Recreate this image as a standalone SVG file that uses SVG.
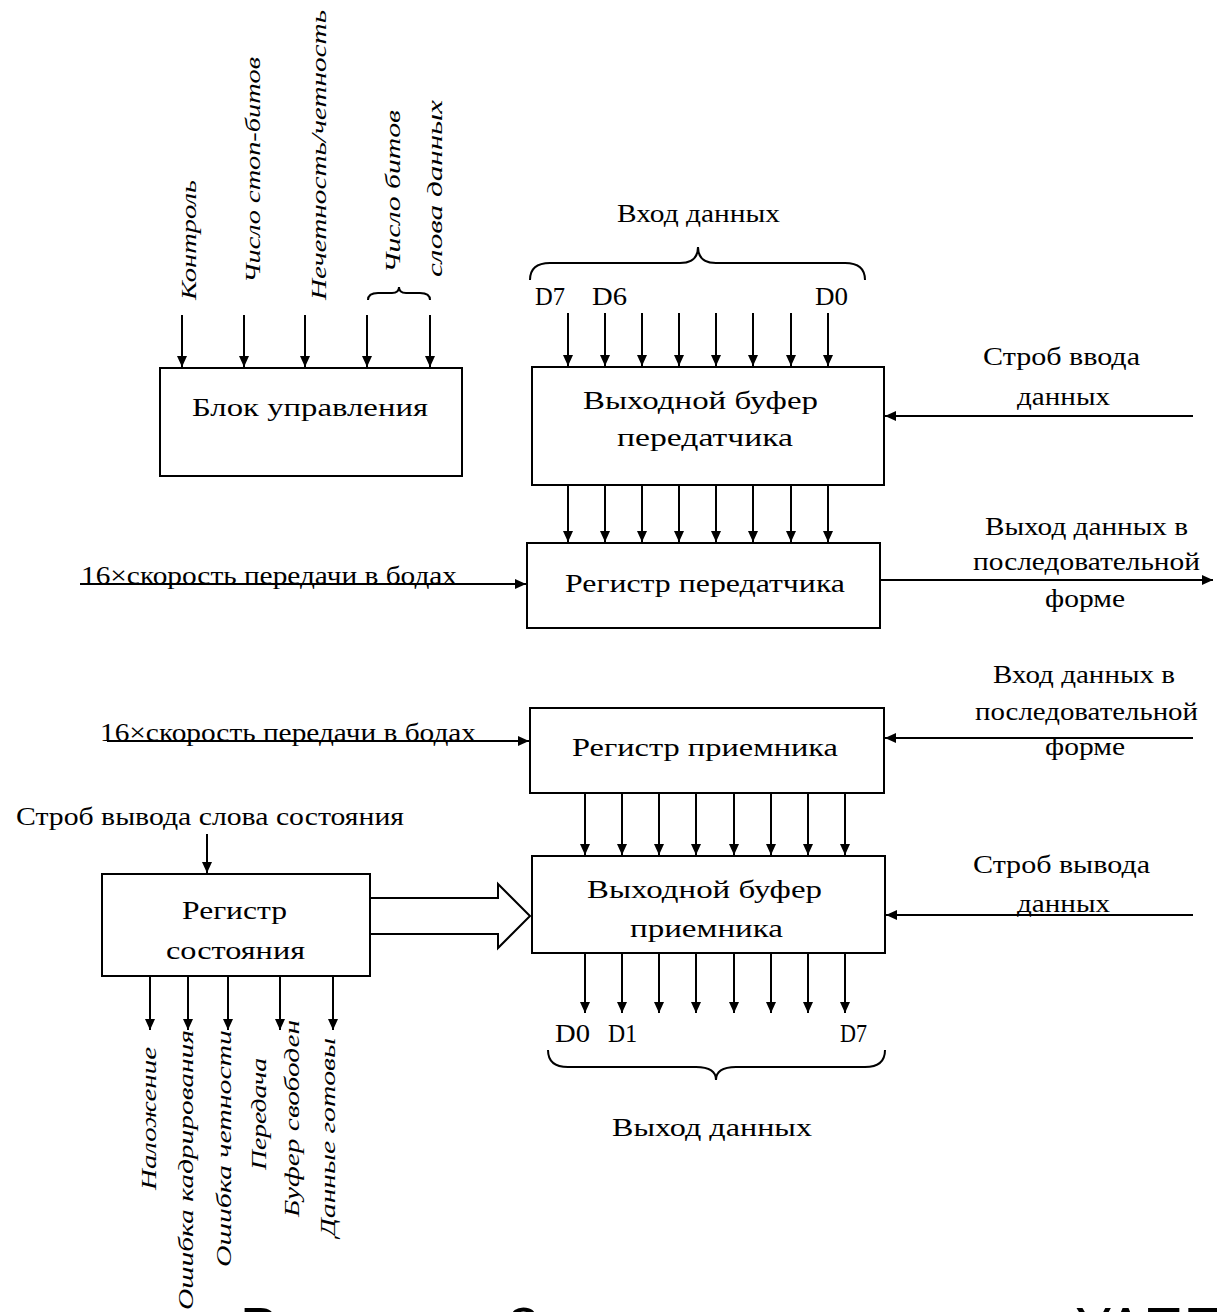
<svg xmlns="http://www.w3.org/2000/svg" width="1217" height="1312" viewBox="0 0 1217 1312">
<style>
.box{fill:#fff;stroke:#000;stroke-width:2}
.ln{stroke:#000;stroke-width:2;fill:none}
.t{font-family:"Liberation Serif","DejaVu Serif",serif;font-size:25px;fill:#000}
.d{font-family:"Liberation Serif","DejaVu Serif",serif;font-size:25px;fill:#000}
.r{font-family:"Liberation Serif","DejaVu Serif",serif;font-size:22px;font-style:italic;fill:#000}
.cap{font-family:"Liberation Sans",Arial,sans-serif;font-size:56px;fill:#000}
</style>
<defs>
<marker id="ah" markerUnits="userSpaceOnUse" markerWidth="12" markerHeight="10" refX="11" refY="5" orient="auto">
<path d="M0,0 L11,5 L0,10 z" fill="#000"/>
</marker>
</defs>
<rect width="1217" height="1312" fill="#fff"/>

<g id="connectors">
<line class="ln" x1="182" y1="315" x2="182" y2="367" marker-end="url(#ah)"/>
<line class="ln" x1="244" y1="315" x2="244" y2="367" marker-end="url(#ah)"/>
<line class="ln" x1="305" y1="315" x2="305" y2="367" marker-end="url(#ah)"/>
<line class="ln" x1="367" y1="315" x2="367" y2="367" marker-end="url(#ah)"/>
<line class="ln" x1="430" y1="315" x2="430" y2="367" marker-end="url(#ah)"/>
<path class="ln" d="M368,300 Q368,293 378,293 L392,293 Q399,293 399,287 Q399,293 406,293 L420,293 Q430,293 430,300"/>
<line class="ln" x1="568" y1="313" x2="568" y2="366" marker-end="url(#ah)"/>
<line class="ln" x1="605" y1="313" x2="605" y2="366" marker-end="url(#ah)"/>
<line class="ln" x1="642" y1="313" x2="642" y2="366" marker-end="url(#ah)"/>
<line class="ln" x1="679" y1="313" x2="679" y2="366" marker-end="url(#ah)"/>
<line class="ln" x1="716" y1="313" x2="716" y2="366" marker-end="url(#ah)"/>
<line class="ln" x1="753" y1="313" x2="753" y2="366" marker-end="url(#ah)"/>
<line class="ln" x1="791" y1="313" x2="791" y2="366" marker-end="url(#ah)"/>
<line class="ln" x1="828" y1="313" x2="828" y2="366" marker-end="url(#ah)"/>
<path class="ln" d="M530,280 Q530,263 550,263 L680,263 Q698,263 698,247 Q698,263 716,263 L845,263 Q865,263 865,280"/>
<line class="ln" x1="568" y1="485" x2="568" y2="542" marker-end="url(#ah)"/>
<line class="ln" x1="605" y1="485" x2="605" y2="542" marker-end="url(#ah)"/>
<line class="ln" x1="642" y1="485" x2="642" y2="542" marker-end="url(#ah)"/>
<line class="ln" x1="679" y1="485" x2="679" y2="542" marker-end="url(#ah)"/>
<line class="ln" x1="716" y1="485" x2="716" y2="542" marker-end="url(#ah)"/>
<line class="ln" x1="753" y1="485" x2="753" y2="542" marker-end="url(#ah)"/>
<line class="ln" x1="791" y1="485" x2="791" y2="542" marker-end="url(#ah)"/>
<line class="ln" x1="828" y1="485" x2="828" y2="542" marker-end="url(#ah)"/>
<line class="ln" x1="1193" y1="416" x2="885" y2="416" marker-end="url(#ah)"/>
<line class="ln" x1="880" y1="580" x2="1213" y2="580" marker-end="url(#ah)"/>
<line class="ln" x1="1193" y1="738" x2="885" y2="738" marker-end="url(#ah)"/>
<line class="ln" x1="1193" y1="915" x2="886" y2="915" marker-end="url(#ah)"/>
<line class="ln" x1="80" y1="584" x2="526" y2="584" marker-end="url(#ah)"/>
<line class="ln" x1="107" y1="741" x2="529" y2="741" marker-end="url(#ah)"/>
<line class="ln" x1="585" y1="793" x2="585" y2="855" marker-end="url(#ah)"/>
<line class="ln" x1="622" y1="793" x2="622" y2="855" marker-end="url(#ah)"/>
<line class="ln" x1="659" y1="793" x2="659" y2="855" marker-end="url(#ah)"/>
<line class="ln" x1="696" y1="793" x2="696" y2="855" marker-end="url(#ah)"/>
<line class="ln" x1="734" y1="793" x2="734" y2="855" marker-end="url(#ah)"/>
<line class="ln" x1="771" y1="793" x2="771" y2="855" marker-end="url(#ah)"/>
<line class="ln" x1="808" y1="793" x2="808" y2="855" marker-end="url(#ah)"/>
<line class="ln" x1="845" y1="793" x2="845" y2="855" marker-end="url(#ah)"/>
<line class="ln" x1="585" y1="953" x2="585" y2="1013" marker-end="url(#ah)"/>
<line class="ln" x1="622" y1="953" x2="622" y2="1013" marker-end="url(#ah)"/>
<line class="ln" x1="659" y1="953" x2="659" y2="1013" marker-end="url(#ah)"/>
<line class="ln" x1="696" y1="953" x2="696" y2="1013" marker-end="url(#ah)"/>
<line class="ln" x1="734" y1="953" x2="734" y2="1013" marker-end="url(#ah)"/>
<line class="ln" x1="771" y1="953" x2="771" y2="1013" marker-end="url(#ah)"/>
<line class="ln" x1="808" y1="953" x2="808" y2="1013" marker-end="url(#ah)"/>
<line class="ln" x1="845" y1="953" x2="845" y2="1013" marker-end="url(#ah)"/>
<path class="ln" d="M548,1050 Q548,1067 568,1067 L696,1067 Q716,1067 716,1080 Q716,1067 736,1067 L865,1067 Q885,1067 885,1050"/>
<line class="ln" x1="207" y1="834" x2="207" y2="873" marker-end="url(#ah)"/>
<line class="ln" x1="150" y1="976" x2="150" y2="1030" marker-end="url(#ah)"/>
<line class="ln" x1="188" y1="976" x2="188" y2="1030" marker-end="url(#ah)"/>
<line class="ln" x1="228" y1="976" x2="228" y2="1030" marker-end="url(#ah)"/>
<line class="ln" x1="280" y1="976" x2="280" y2="1030" marker-end="url(#ah)"/>
<line class="ln" x1="333" y1="976" x2="333" y2="1030" marker-end="url(#ah)"/>
<polygon class="box" points="370,898 498,898 498,884 530,916 498,948 498,934 370,934"/>
</g>

<g id="control-block">
<rect class="box" x="160" y="368" width="302" height="108"/>
<text class="t" x="192" y="416" textLength="236" lengthAdjust="spacingAndGlyphs">Блок управления</text>
</g>
<g id="control-inputs">
<text class="r" transform="translate(196,300) rotate(-90)" textLength="120" lengthAdjust="spacingAndGlyphs">Контроль</text>
<text class="r" transform="translate(260,283) rotate(-90)" textLength="226" lengthAdjust="spacingAndGlyphs">Число стоп-битов</text>
<text class="r" transform="translate(326,300) rotate(-90)" textLength="290" lengthAdjust="spacingAndGlyphs">Нечетность/четность</text>
<text class="r" transform="translate(400,273) rotate(-90)" textLength="163" lengthAdjust="spacingAndGlyphs">Число битов</text>
<text class="r" transform="translate(442,277) rotate(-90)" textLength="177" lengthAdjust="spacingAndGlyphs">слова данных</text>
</g>

<g id="data-in">
<text class="t" x="617" y="222" textLength="163" lengthAdjust="spacingAndGlyphs">Вход данных</text>
<text class="d" x="535" y="305" textLength="30" lengthAdjust="spacingAndGlyphs">D7</text>
<text class="d" x="592" y="305" textLength="35" lengthAdjust="spacingAndGlyphs">D6</text>
<text class="d" x="815" y="305" textLength="33" lengthAdjust="spacingAndGlyphs">D0</text>
</g>

<g id="tx-buffer">
<rect class="box" x="532" y="367" width="352" height="118"/>
<text class="t" x="583" y="409" textLength="235" lengthAdjust="spacingAndGlyphs">Выходной буфер</text>
<text class="t" x="617" y="446" textLength="176" lengthAdjust="spacingAndGlyphs">передатчика</text>
</g>

<g id="tx-register">
<rect class="box" x="527" y="543" width="353" height="85"/>
<text class="t" x="565" y="592" textLength="280" lengthAdjust="spacingAndGlyphs">Регистр передатчика</text>
</g>

<g id="rx-register">
<rect class="box" x="530" y="708" width="354" height="85"/>
<text class="t" x="572" y="756" textLength="266" lengthAdjust="spacingAndGlyphs">Регистр приемника</text>
</g>

<g id="rx-buffer">
<rect class="box" x="532" y="856" width="353" height="97"/>
<text class="t" x="587" y="898" textLength="235" lengthAdjust="spacingAndGlyphs">Выходной буфер</text>
<text class="t" x="630" y="937" textLength="153" lengthAdjust="spacingAndGlyphs">приемника</text>
</g>

<g id="status-register">
<rect class="box" x="102" y="874" width="268" height="102"/>
<text class="t" x="182" y="919" textLength="105" lengthAdjust="spacingAndGlyphs">Регистр</text>
<text class="t" x="166" y="959" textLength="139" lengthAdjust="spacingAndGlyphs">состояния</text>
</g>

<g id="labels">
<text class="t" x="16" y="825" textLength="388" lengthAdjust="spacingAndGlyphs">Строб вывода слова состояния</text>
<text class="t" x="81" y="584" textLength="376" lengthAdjust="spacingAndGlyphs">16×скорость передачи в бодах</text>
<text class="t" x="100" y="741" textLength="376" lengthAdjust="spacingAndGlyphs">16×скорость передачи в бодах</text>
<text class="t" x="983" y="365" textLength="157" lengthAdjust="spacingAndGlyphs">Строб ввода</text>
<text class="t" x="1017" y="405" textLength="93" lengthAdjust="spacingAndGlyphs">данных</text>
<text class="t" x="985" y="535" textLength="203" lengthAdjust="spacingAndGlyphs">Выход данных в</text>
<text class="t" x="973" y="570" textLength="227" lengthAdjust="spacingAndGlyphs">последовательной</text>
<text class="t" x="1045" y="607" textLength="80" lengthAdjust="spacingAndGlyphs">форме</text>
<text class="t" x="993" y="683" textLength="182" lengthAdjust="spacingAndGlyphs">Вход данных в</text>
<text class="t" x="975" y="720" textLength="223" lengthAdjust="spacingAndGlyphs">последовательной</text>
<text class="t" x="1045" y="755" textLength="80" lengthAdjust="spacingAndGlyphs">форме</text>
<text class="t" x="973" y="873" textLength="177" lengthAdjust="spacingAndGlyphs">Строб вывода</text>
<text class="t" x="1017" y="912" textLength="93" lengthAdjust="spacingAndGlyphs">данных</text>
<text class="d" x="555" y="1042" textLength="35" lengthAdjust="spacingAndGlyphs">D0</text>
<text class="d" x="608" y="1042" textLength="29" lengthAdjust="spacingAndGlyphs">D1</text>
<text class="d" x="840" y="1042" textLength="27" lengthAdjust="spacingAndGlyphs">D7</text>
<text class="t" x="612" y="1136" textLength="200" lengthAdjust="spacingAndGlyphs">Выход данных</text>
</g>

<g id="status-outputs">
<text class="r" transform="translate(156,1190) rotate(-90)" textLength="143" lengthAdjust="spacingAndGlyphs">Наложение</text>
<text class="r" transform="translate(193,1310) rotate(-90)" textLength="280" lengthAdjust="spacingAndGlyphs">Ошибка кадрирования</text>
<text class="r" transform="translate(231,1267) rotate(-90)" textLength="237" lengthAdjust="spacingAndGlyphs">Ошибка четности</text>
<text class="r" transform="translate(266,1170) rotate(-90)" textLength="112" lengthAdjust="spacingAndGlyphs">Передача</text>
<text class="r" transform="translate(299,1217) rotate(-90)" textLength="197" lengthAdjust="spacingAndGlyphs">Буфер свободен</text>
<text class="r" transform="translate(335,1237) rotate(-90)" textLength="199" lengthAdjust="spacingAndGlyphs">Данные готовы</text>
</g>

<g id="caption">
<text class="cap" y="1346"><tspan x="240">Рисунок</tspan><tspan x="508">3 – структурная схема</tspan><tspan x="1075">УАПП</tspan></text>
</g>
</svg>
